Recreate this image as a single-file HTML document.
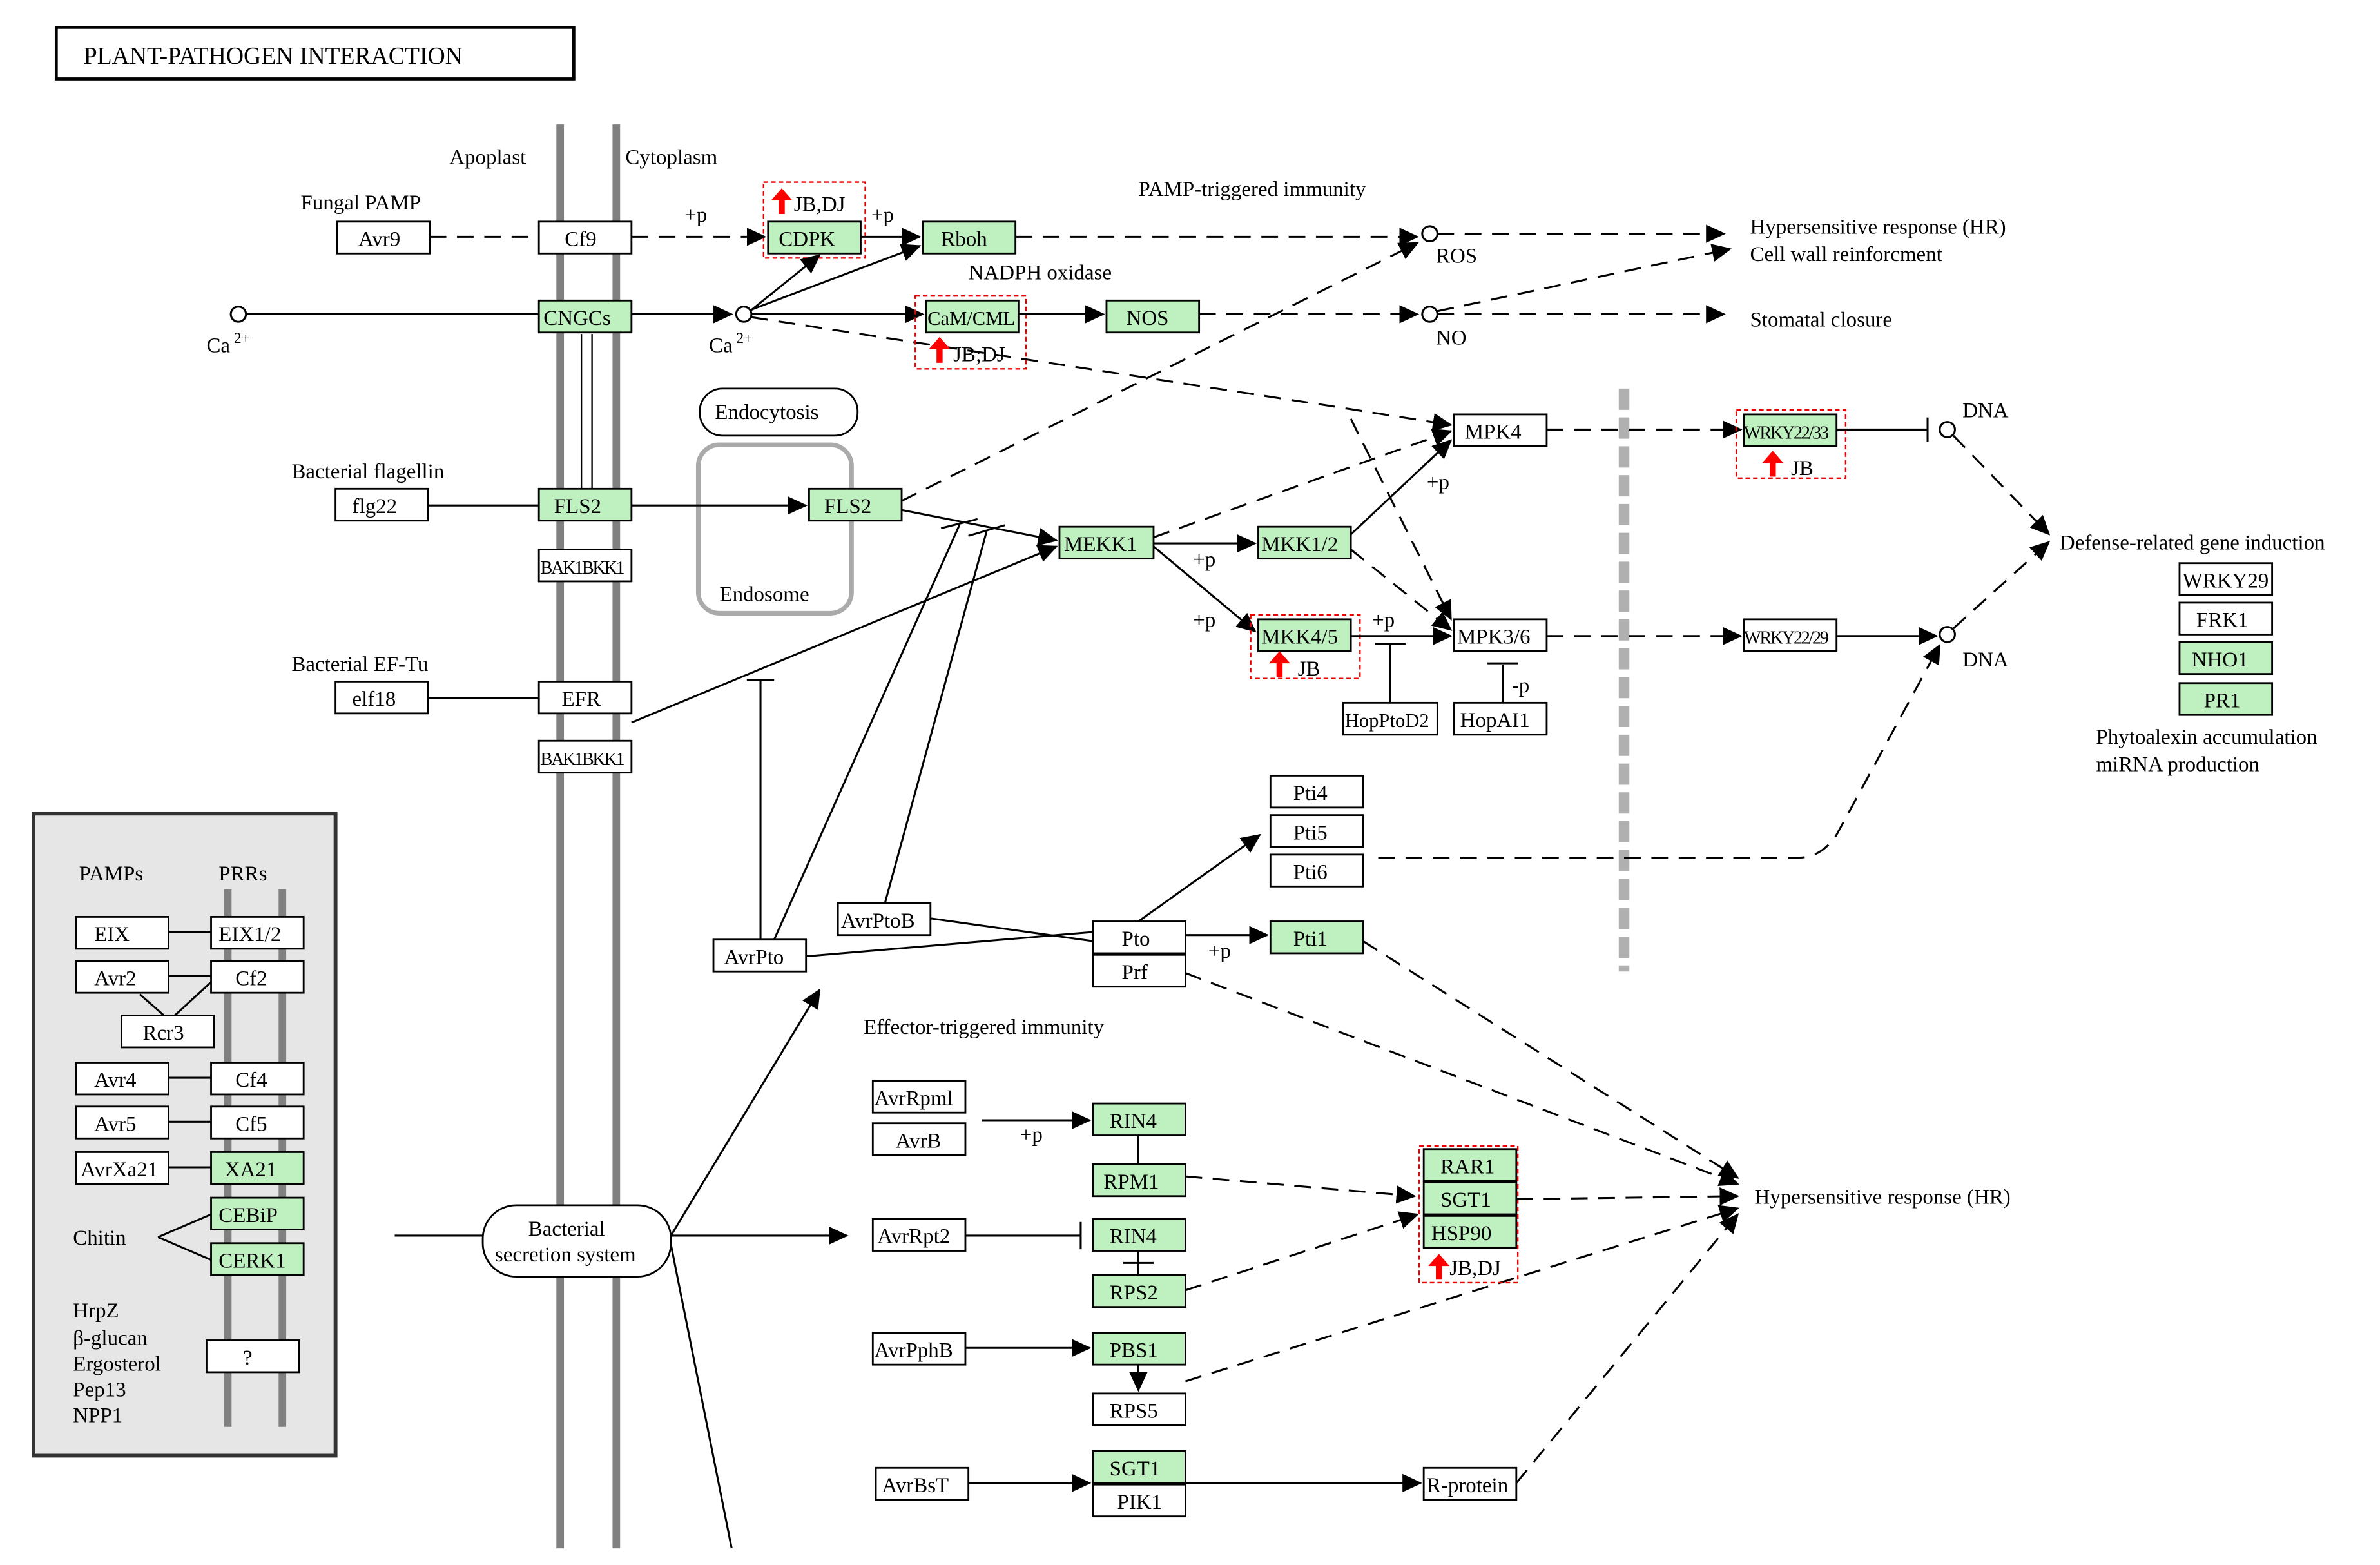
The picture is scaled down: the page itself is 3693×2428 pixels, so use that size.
<!DOCTYPE html>
<html><head><meta charset="utf-8"><style>
html,body{margin:0;padding:0;background:#fff;}
svg{display:block;}
text{font-family:"Liberation Serif",serif;font-size:14px;fill:#000;}
.b{fill:#fff;stroke:#000;stroke-width:1.2;}
.g{fill:#bff0bf;stroke:#000;stroke-width:1.2;}
.l{stroke:#000;stroke-width:1.3;fill:none;}
.d{stroke:#000;stroke-width:1.3;fill:none;stroke-dasharray:11,7;}
.r{fill:none;stroke:#e00;stroke-width:1;stroke-dasharray:3,2;}
.c{fill:#fff;stroke:#000;stroke-width:1.3;}
</style></head><body>
<svg width="3693" height="2428" viewBox="0 0 1568 1031" xmlns="http://www.w3.org/2000/svg">
<defs>
<marker id="a" markerWidth="13" markerHeight="12" refX="12" refY="6" orient="auto" markerUnits="userSpaceOnUse"><path d="M0,0 L13,6 L0,12 z" fill="#000"/></marker>
</defs>
<rect width="1568" height="1031" fill="#fff"/>
<rect x="37" y="18" width="341" height="34" fill="#fff" stroke="#000" stroke-width="2"/>
<text x="55" y="42" style="font-size:16px">PLANT-PATHOGEN  INTERACTION</text>
<line x1="369" y1="82" x2="369" y2="1020" stroke="#808080" stroke-width="5"/>
<line x1="406" y1="82" x2="406" y2="1020" stroke="#808080" stroke-width="5"/>
<line x1="383" y1="220" x2="383" y2="322" stroke="#000" stroke-width="1"/>
<line x1="390" y1="220" x2="390" y2="322" stroke="#000" stroke-width="1"/>
<text x="296" y="108">Apoplast</text><text x="412" y="108">Cytoplasm</text>
<line x1="1070" y1="256" x2="1070" y2="640" stroke="#b0b0b0" stroke-width="7" stroke-dasharray="14,5"/>
<rect x="22" y="536" width="199" height="423" fill="#e6e6e6" stroke="#333" stroke-width="2.5"/>
<line x1="150" y1="586" x2="150" y2="940" stroke="#808080" stroke-width="5"/>
<line x1="186" y1="586" x2="186" y2="940" stroke="#808080" stroke-width="5"/>
<text x="52" y="580">PAMPs</text><text x="144" y="580">PRRs</text>
<g>
<rect class="b" x="50" y="604" width="61" height="21"/><text x="62" y="620">EIX</text>
<rect class="b" x="139" y="604" width="61" height="21"/><text x="144" y="620">EIX1/2</text>
<rect class="b" x="50" y="633" width="61" height="21"/><text x="62" y="649">Avr2</text>
<rect class="b" x="139" y="633" width="61" height="21"/><text x="155" y="649">Cf2</text>
<rect class="b" x="80" y="669" width="61" height="21"/><text x="94" y="685">Rcr3</text>
<rect class="b" x="50" y="700" width="61" height="21"/><text x="62" y="716">Avr4</text>
<rect class="b" x="139" y="700" width="61" height="21"/><text x="155" y="716">Cf4</text>
<rect class="b" x="50" y="729" width="61" height="21"/><text x="62" y="745">Avr5</text>
<rect class="b" x="139" y="729" width="61" height="21"/><text x="155" y="745">Cf5</text>
<rect class="b" x="50" y="759" width="61" height="21"/><text x="53" y="775">AvrXa21</text>
<rect class="g" x="139" y="759" width="61" height="21"/><text x="148" y="775">XA21</text>
<rect class="g" x="139" y="789" width="61" height="21"/><text x="144" y="805">CEBiP</text>
<rect class="g" x="139" y="819" width="61" height="21"/><text x="144" y="835">CERK1</text>
<rect class="b" x="136" y="883" width="61" height="21"/><text x="160" y="899">?</text>
<line class="l" x1="111" y1="614" x2="139" y2="614"/><line class="l" x1="111" y1="643" x2="139" y2="643"/>
<line class="l" x1="111" y1="710" x2="139" y2="710"/><line class="l" x1="111" y1="739" x2="139" y2="739"/>
<line class="l" x1="111" y1="769" x2="139" y2="769"/>
<line class="l" x1="92" y1="655" x2="108" y2="669"/><line class="l" x1="139" y1="647" x2="115" y2="669"/>
<line class="l" x1="104" y1="815" x2="139" y2="800"/><line class="l" x1="104" y1="815" x2="139" y2="830"/>
<text x="48" y="820">Chitin</text>
<text x="48" y="868">HrpZ</text><text x="48" y="886">β-glucan</text><text x="48" y="903">Ergosterol</text><text x="48" y="920">Pep13</text><text x="48" y="937">NPP1</text>
</g>
<text x="198" y="138">Fungal PAMP</text>
<rect class="b" x="222" y="146" width="61" height="21"/><text x="236" y="162">Avr9</text>
<rect class="b" x="355" y="146" width="61" height="21"/><text x="372" y="162">Cf9</text>
<rect class="g" x="506" y="146" width="61" height="21"/><text x="513" y="162">CDPK</text>
<rect class="r" x="503" y="120" width="67" height="50"/>
<path d="M513,141 v-9 h-5 l7,-8 l7,8 h-5 v9z" fill="#f00"/><text x="523" y="139">JB,DJ</text>
<rect class="g" x="608" y="146" width="61" height="21"/><text x="620" y="162">Rboh</text>
<line class="d" x1="283" y1="156" x2="355" y2="156"/>
<line class="d" x1="416" y1="156" x2="504" y2="156" marker-end="url(#a)"/><text x="451" y="146">+p</text>
<line class="l" x1="567" y1="156" x2="606" y2="156" marker-end="url(#a)"/><text x="574" y="146">+p</text>
<line class="d" x1="669" y1="156" x2="934" y2="156" marker-end="url(#a)"/>
<circle class="c" cx="942" cy="154" r="5"/><text x="946" y="173">ROS</text>
<line class="d" x1="947" y1="154" x2="1136" y2="154" marker-end="url(#a)"/>
<text x="750" y="129">PAMP-triggered immunity</text>
<text x="1153" y="154">Hypersensitive response (HR)</text>
<text x="1153" y="172">Cell wall reinforcment</text>
<line class="d" x1="947" y1="205" x2="1140" y2="164" marker-end="url(#a)"/>
<text x="1153" y="215">Stomatal closure</text>
<circle class="c" cx="157" cy="207" r="5"/><text x="136" y="232">Ca</text><text x="154" y="226" style="font-size:10px">2+</text>
<line class="l" x1="162" y1="207" x2="355" y2="207"/>
<rect class="g" x="355" y="198" width="61" height="21"/><text x="358" y="214">CNGCs</text>
<line class="l" x1="416" y1="207" x2="482" y2="207" marker-end="url(#a)"/>
<circle class="c" cx="490" cy="207" r="5"/><text x="467" y="232">Ca</text><text x="485" y="226" style="font-size:10px">2+</text>
<line class="l" x1="494" y1="205" x2="540" y2="168" marker-end="url(#a)"/>
<line class="l" x1="495" y1="204" x2="606" y2="162" marker-end="url(#a)"/>
<line class="l" x1="495" y1="207" x2="608" y2="207" marker-end="url(#a)"/>
<path class="d" d="M495,209 L880,268 L956,280" marker-end="url(#a)"/>
<rect class="g" x="610" y="198" width="61" height="21"/><text x="611" y="214" style="font-size:13px">CaM/CML</text>
<rect class="r" x="603" y="195" width="73" height="48"/>
<path d="M617,239 v-9 h-5 l7,-8 l7,8 h-5 v9z" fill="#f00"/><text x="628" y="238">JB;DJ</text>
<text x="638" y="184">NADPH oxidase</text>
<line class="l" x1="671" y1="207" x2="727" y2="207" marker-end="url(#a)"/>
<rect class="g" x="729" y="198" width="61" height="21"/><text x="742" y="214">NOS</text>
<line class="d" x1="790" y1="207" x2="934" y2="207" marker-end="url(#a)"/>
<circle class="c" cx="942" cy="207" r="5"/><text x="946" y="227">NO</text>
<line class="d" x1="947" y1="207" x2="1136" y2="207" marker-end="url(#a)"/>
<rect x="461" y="256" width="104" height="31" rx="15" fill="#fff" stroke="#000" stroke-width="1.2"/><text x="471" y="276">Endocytosis</text>
<rect x="460" y="293" width="101" height="111" rx="14" fill="none" stroke="#aaa" stroke-width="3"/><text x="474" y="396">Endosome</text>
<text x="192" y="315">Bacterial flagellin</text>
<rect class="b" x="221" y="322" width="61" height="21"/><text x="232" y="338">flg22</text>
<line class="l" x1="282" y1="333" x2="355" y2="333"/>
<rect class="g" x="355" y="322" width="61" height="21"/><text x="365" y="338">FLS2</text>
<rect class="b" x="355" y="362" width="61" height="21"/><text x="356" y="378" style="font-size:12px;letter-spacing:-1px">BAK1BKK1</text>
<line class="l" x1="416" y1="333" x2="531" y2="333" marker-end="url(#a)"/>
<rect class="g" x="533" y="322" width="61" height="21"/><text x="543" y="338">FLS2</text>
<line class="d" x1="594" y1="330" x2="934" y2="160" marker-end="url(#a)"/>
<line class="l" x1="594" y1="336" x2="696" y2="356" marker-end="url(#a)"/>
<rect class="g" x="698" y="347" width="62" height="21"/><text x="701" y="363">MEKK1</text>
<line class="l" x1="760" y1="358" x2="827" y2="358" marker-end="url(#a)"/><text x="786" y="373">+p</text>
<line class="l" x1="760" y1="360" x2="827" y2="416" marker-end="url(#a)"/><text x="786" y="413">+p</text>
<line class="d" x1="760" y1="354" x2="956" y2="284" marker-end="url(#a)"/>
<rect class="g" x="829" y="347" width="61" height="21"/><text x="831" y="363">MKK1/2</text>
<line class="l" x1="890" y1="352" x2="956" y2="290" marker-end="url(#a)"/><text x="940" y="322">+p</text>
<line class="d" x1="890" y1="362" x2="956" y2="415" marker-end="url(#a)"/>
<line class="d" x1="890" y1="276" x2="956" y2="408" marker-end="url(#a)"/>
<rect class="g" x="829" y="408" width="61" height="21"/><text x="831" y="424">MKK4/5</text>
<rect class="r" x="824" y="405" width="72" height="42"/>
<path d="M841,446 v-9 h-5 l7,-8 l7,8 h-5 v9z" fill="#f00"/><text x="855" y="445">JB</text>
<line class="l" x1="890" y1="419" x2="956" y2="419" marker-end="url(#a)"/><text x="904" y="413">+p</text>
<rect class="b" x="958" y="273" width="61" height="21"/><text x="965" y="289">MPK4</text>
<rect class="b" x="958" y="408" width="61" height="21"/><text x="960" y="424">MPK3/6</text>
<rect class="b" x="885" y="463" width="62" height="21"/><text x="886" y="479" style="font-size:13px">HopPtoD2</text>
<rect class="b" x="958" y="463" width="61" height="21"/><text x="962" y="479">HopAI1</text>
<line class="l" x1="916" y1="463" x2="916" y2="425"/><line class="l" x1="906" y1="424" x2="926" y2="424"/>
<line class="l" x1="990" y1="463" x2="990" y2="438"/><line class="l" x1="980" y1="437" x2="1000" y2="437"/><text x="996" y="456">-p</text>
<line class="d" x1="1019" y1="283" x2="1147" y2="283" marker-end="url(#a)"/>
<line class="d" x1="1019" y1="419" x2="1147" y2="419" marker-end="url(#a)"/>
<rect class="g" x="1149" y="273" width="61" height="21"/><text x="1149" y="289" style="font-size:12px;letter-spacing:-1px">WRKY22/33</text>
<rect class="r" x="1144" y="270" width="72" height="45"/>
<path d="M1166,314 v-9 h-5 l7,-8 l7,8 h-5 v9z" fill="#f00"/><text x="1180" y="313">JB</text>
<line class="l" x1="1210" y1="283" x2="1270" y2="283"/><line class="l" x1="1270" y1="275" x2="1270" y2="291"/>
<circle class="c" cx="1283" cy="283" r="5"/><text x="1293" y="275">DNA</text>
<rect class="b" x="1149" y="408" width="61" height="21"/><text x="1149" y="424" style="font-size:12px;letter-spacing:-1px">WRKY22/29</text>
<line class="l" x1="1210" y1="419" x2="1276" y2="419" marker-end="url(#a)"/>
<circle class="c" cx="1283" cy="418" r="5"/><text x="1293" y="439">DNA</text>
<line class="d" x1="1287" y1="287" x2="1350" y2="352" marker-end="url(#a)"/>
<line class="d" x1="1287" y1="414" x2="1350" y2="357" marker-end="url(#a)"/>
<text x="1357" y="362">Defense-related gene induction</text>
<rect class="b" x="1436" y="371" width="61" height="21"/><text x="1438" y="387">WRKY29</text>
<rect class="b" x="1436" y="397" width="61" height="21"/><text x="1447" y="413">FRK1</text>
<rect class="g" x="1436" y="423" width="61" height="21"/><text x="1444" y="439">NHO1</text>
<rect class="g" x="1436" y="450" width="61" height="21"/><text x="1452" y="466">PR1</text>
<text x="1381" y="490">Phytoalexin accumulation</text><text x="1381" y="508">miRNA production</text>
<text x="192" y="442">Bacterial EF-Tu</text>
<rect class="b" x="221" y="449" width="61" height="21"/><text x="232" y="465">elf18</text>
<line class="l" x1="282" y1="460" x2="355" y2="460"/>
<rect class="b" x="355" y="449" width="61" height="21"/><text x="370" y="465">EFR</text>
<rect class="b" x="355" y="488" width="61" height="21"/><text x="356" y="504" style="font-size:12px;letter-spacing:-1px">BAK1BKK1</text>
<line class="l" x1="416" y1="476" x2="696" y2="360" marker-end="url(#a)"/>
<rect class="b" x="470" y="619" width="61" height="21"/><text x="477" y="635">AvrPto</text>
<rect class="b" x="552" y="595" width="61" height="21"/><text x="554" y="611">AvrPtoB</text>
<polyline class="l" points="501,619 501,448"/><line class="l" x1="492" y1="448" x2="510" y2="448"/>
<line class="l" x1="510" y1="619" x2="632" y2="346"/><line class="l" x1="583" y1="595" x2="650" y2="350"/>
<line class="l" x1="620" y1="348" x2="644" y2="342"/><line class="l" x1="638" y1="353" x2="662" y2="346"/>
<line class="l" x1="531" y1="630" x2="720" y2="614"/><line class="l" x1="613" y1="605" x2="720" y2="620"/>
<rect class="b" x="720" y="607" width="61" height="21"/><text x="739" y="623">Pto</text>
<rect class="b" x="720" y="629" width="61" height="21"/><text x="739" y="645">Prf</text>
<line class="l" x1="750" y1="607" x2="830" y2="550" marker-end="url(#a)"/>
<line class="l" x1="781" y1="616" x2="835" y2="616" marker-end="url(#a)"/><text x="796" y="631">+p</text>
<rect class="b" x="837" y="511" width="61" height="21"/><text x="852" y="527">Pti4</text>
<rect class="b" x="837" y="537" width="61" height="21"/><text x="852" y="553">Pti5</text>
<rect class="b" x="837" y="563" width="61" height="21"/><text x="852" y="579">Pti6</text>
<rect class="g" x="837" y="607" width="61" height="21"/><text x="852" y="623">Pti1</text>
<path class="d" d="M908,565 L1185,565 Q1200,565 1210,550 L1278,425" marker-end="url(#a)"/>
<line class="d" x1="898" y1="620" x2="1145" y2="776" marker-end="url(#a)"/>
<line class="d" x1="781" y1="641" x2="1145" y2="780" marker-end="url(#a)"/>
<text x="569" y="681">Effector-triggered immunity</text>
<rect x="318" y="794" width="124" height="47" rx="22" fill="#fff" stroke="#000" stroke-width="1.2"/>
<text x="348" y="814">Bacterial</text><text x="326" y="831">secretion system</text>
<line class="l" x1="260" y1="814" x2="318" y2="814"/>
<line class="l" x1="442" y1="814" x2="540" y2="652" marker-end="url(#a)"/>
<line class="l" x1="442" y1="814" x2="558" y2="814" marker-end="url(#a)"/>
<line class="l" x1="442" y1="820" x2="482" y2="1020"/>
<rect class="b" x="575" y="712" width="61" height="21"/><text x="576" y="728">AvrRpml</text>
<rect class="b" x="575" y="740" width="61" height="21"/><text x="590" y="756">AvrB</text>
<line class="l" x1="647" y1="738" x2="718" y2="738" marker-end="url(#a)"/><text x="672" y="752">+p</text>
<rect class="g" x="720" y="727" width="61" height="21"/><text x="731" y="743">RIN4</text>
<line class="l" x1="750" y1="748" x2="750" y2="767"/>
<rect class="g" x="720" y="767" width="61" height="21"/><text x="727" y="783">RPM1</text>
<line class="d" x1="781" y1="775" x2="932" y2="788" marker-end="url(#a)"/>
<rect class="b" x="575" y="803" width="61" height="21"/><text x="578" y="819">AvrRpt2</text>
<line class="l" x1="636" y1="814" x2="712" y2="814"/><line class="l" x1="712" y1="805" x2="712" y2="823"/>
<rect class="g" x="720" y="803" width="61" height="21"/><text x="731" y="819">RIN4</text>
<line class="l" x1="750" y1="824" x2="750" y2="840"/><line class="l" x1="740" y1="832" x2="760" y2="832"/>
<rect class="g" x="720" y="840" width="61" height="21"/><text x="731" y="856">RPS2</text>
<line class="d" x1="781" y1="850" x2="934" y2="800" marker-end="url(#a)"/>
<rect class="b" x="575" y="878" width="61" height="21"/><text x="576" y="894">AvrPphB</text>
<line class="l" x1="636" y1="888" x2="718" y2="888" marker-end="url(#a)"/>
<rect class="g" x="720" y="878" width="61" height="21"/><text x="731" y="894">PBS1</text>
<line class="l" x1="750" y1="899" x2="750" y2="916" marker-end="url(#a)"/>
<rect class="b" x="720" y="918" width="61" height="21"/><text x="731" y="934">RPS5</text>
<line class="d" x1="781" y1="910" x2="1145" y2="796" marker-end="url(#a)"/>
<rect class="b" x="577" y="967" width="61" height="21"/><text x="581" y="983">AvrBsT</text>
<line class="l" x1="638" y1="977" x2="718" y2="977" marker-end="url(#a)"/>
<rect class="g" x="720" y="956" width="61" height="21"/><text x="731" y="972">SGT1</text>
<rect class="b" x="720" y="978" width="61" height="21"/><text x="736" y="994">PIK1</text>
<line class="l" x1="781" y1="977" x2="936" y2="977" marker-end="url(#a)"/>
<rect class="b" x="938" y="967" width="61" height="21"/><text x="940" y="983">R-protein</text>
<line class="d" x1="999" y1="977" x2="1145" y2="800" marker-end="url(#a)"/>
<rect class="g" x="938" y="757" width="61" height="21"/><text x="949" y="773">RAR1</text>
<rect class="g" x="938" y="779" width="61" height="21"/><text x="949" y="795">SGT1</text>
<rect class="g" x="938" y="801" width="61" height="21"/><text x="943" y="817">HSP90</text>
<rect class="r" x="935" y="755" width="65" height="90"/>
<path d="M946,843 v-9 h-5 l7,-8 l7,8 h-5 v9z" fill="#f00"/><text x="955" y="840">JB,DJ</text>
<line class="d" x1="999" y1="790" x2="1145" y2="788" marker-end="url(#a)"/>
<text x="1156" y="793">Hypersensitive response (HR)</text>
</svg>
</body></html>
